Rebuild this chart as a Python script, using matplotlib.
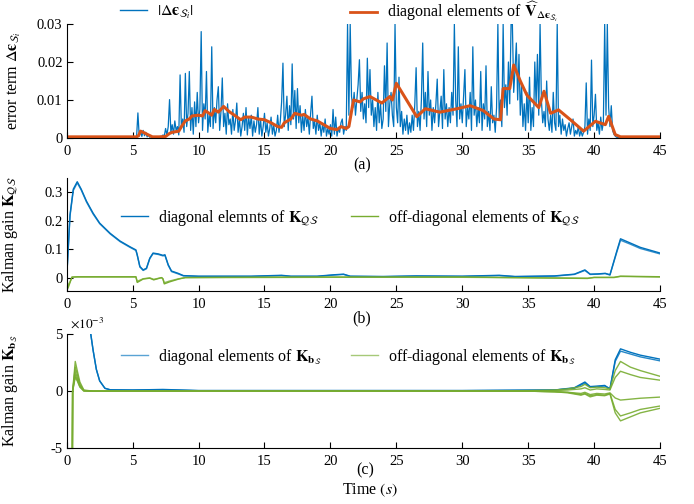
import matplotlib
matplotlib.use('Agg')
import matplotlib.pyplot as plt
import numpy as np
from matplotlib.lines import Line2D

plt.rcParams['font.family'] = ['Liberation Serif', 'DejaVu Serif']
plt.rcParams['mathtext.fontset'] = 'stix'

BLUE = '#0072BD'
ORANGE = '#D95319'
GREEN = '#77AC30'

# ---- (a) error term, values in 1e-3, one row per second starting at 5 s, 0.1 s apart
err_rows = [
    [0, 0, 0, 0.3, 6.6, 0.5, 1.8, 0.4, 2.0, 0.6],          # 5
    [1.5, 0.3, 0.8, 0.2, 0.4, 0.1, 0.2, 0.1, 0.2, 0.1],     # 6
    [0.2, 0.4, 0.3, 0.8, 0.5, 2.5, 0.8, 3.0, 10.1, 1.5],    # 7
    [3.5, 1.0, 4.5, 2.0, 3.0, 0.8, 16.6, 2.5, 5.0, 1.5],    # 8
    [17.0, 3.0, 6.5, 17.5, 2.0, 8.0, 1.0, 9.5, 3.0, 12.0],  # 9
    [4.0, 7.5, 28.0, 2.0, 9.0, 5.0, 17.5, 1.5, 6.0, 3.0],   # 10
    [24.0, 2.5, 8.0, 4.0, 10.0, 13.5, 2.0, 7.0, 15.8, 3.0], # 11
    [6.5, 1.0, 9.0, 3.5, 5.0, 1.0, 7.5, 2.0, 4.5, 9.2],     # 12
    [1.5, 5.0, 0.5, 3.0, 6.5, 2.0, 8.0, 0.8, 5.5, 2.5],     # 13
    [6.0, 0.5, 4.5, 1.5, 3.5, 8.0, 1.0, 5.0, 0.5, 3.0],     # 14
    [6.5, 1.5, 4.0, 0.5, 2.5, 5.5, 1.0, 3.5, 0.5, 2.0],     # 15
    [6.0, 1.5, 4.5, 9.5, 19.7, 3.0, 6.0, 11.0, 2.0, 8.5],   # 16
    [3.5, 19.5, 5.0, 12.5, 2.5, 13.0, 4.0, 8.5, 1.5, 6.0],  # 17
    [2.0, 7.5, 3.0, 5.5, 1.0, 6.5, 11.0, 2.5, 4.5, 1.0],    # 18
    [6.0, 2.0, 4.0, 0.5, 3.5, 1.5, 5.0, 0.5, 2.5, 1.0],     # 19
    [3.5, 0.5, 7.5, 1.0, 5.5, 0.5, 2.5, 1.5, 4.0, 5.0],     # 20
    [1.0, 3.0, 2.0, 30.0, 6.0, 30.0, 11.0, 8.0, 12.0, 6.0], # 21
    [10.0, 14.0, 20.6, 7.0, 12.0, 5.0, 9.0, 4.0, 21.0, 8.0],# 22
    [18.0, 6.0, 10.0, 3.0, 8.0, 2.0, 12.0, 4.0, 9.0, 2.5],  # 23
    [5.0, 19.0, 7.0, 25.0, 3.0, 9.0, 12.0, 6.0, 3.0, 30.0], # 24
    [8.0, 4.0, 16.0, 3.0, 7.0, 1.0, 5.0, 2.0, 6.0, 1.0],    # 25
    [4.0, 1.5, 6.0, 2.0, 9.0, 18.5, 3.0, 7.0, 2.0, 10.0],   # 26
    [25.0, 5.0, 12.0, 3.0, 17.5, 6.0, 10.0, 2.0, 8.0, 4.0], # 27
    [9.0, 15.5, 3.0, 7.0, 11.0, 2.5, 18.0, 5.0, 9.0, 3.0],  # 28
    [8.0, 4.0, 12.0, 6.0, 30.0, 10.0, 3.0, 24.0, 5.0, 9.0], # 29
    [4.0, 11.0, 18.0, 3.0, 8.0, 5.0, 12.0, 2.0, 24.0, 6.0], # 30
    [10.0, 3.0, 8.0, 4.0, 17.5, 2.0, 9.0, 5.0, 19.0, 3.0],  # 31
    [7.0, 2.0, 13.5, 4.0, 6.0, 1.5, 8.0, 30.0, 5.0, 10.0],  # 32
    [3.0, 30.0, 8.0, 14.0, 6.0, 20.0, 9.0, 30.0, 30.0, 12.0],  # 33
    [18.0, 25.0, 10.0, 22.0, 6.0, 14.0, 3.0, 9.0, 2.0, 12.0],  # 34
    [4.0, 16.0, 2.0, 8.0, 3.0, 20.0, 9.0, 22.0, 6.0, 30.0], # 35
    [10.0, 4.0, 7.0, 3.0, 15.0, 5.0, 2.0, 6.0, 1.5, 12.0],  # 36
    [4.0, 2.0, 30.0, 3.0, 6.0, 1.0, 5.0, 2.0, 3.5, 0.5],    # 37
    [2.5, 4.0, 1.0, 3.0, 5.0, 0.5, 2.0, 1.0, 3.0, 0.5],     # 38
    [2.0, 0.5, 1.5, 3.0, 14.5, 1.0, 5.0, 2.0, 20.5, 3.0],   # 39
    [6.0, 11.5, 2.0, 4.0, 1.0, 5.5, 2.0, 4.0, 30.0, 6.0],   # 40
    [30.0, 8.0, 3.0, 8.5, 2.0, 1.0, 0.5, 0.2, 0.1, 0.1],    # 41
]

var_t = [0, 5.3, 5.45, 5.6, 5.8, 6.2, 6.5, 7.0, 7.5, 7.8, 8.0, 8.5, 8.7, 9.0, 9.3, 9.5,
         10.0, 10.3, 10.5, 10.8, 11.0, 11.2, 11.5, 11.9, 12.3, 12.8, 13.2, 13.5, 14.0,
         14.5, 15.0, 15.5, 16.0, 16.3, 16.5, 17.0, 17.3, 17.8, 18.0, 18.5, 19.0, 19.5,
         20.0, 20.5, 20.8, 21.2, 21.4, 21.75, 22.25, 22.5, 23.0, 23.9, 24.5, 24.7, 25.0,
         26.55, 27.2, 28.3, 29.6, 30.6, 31.6, 32.4, 32.9, 33.1, 33.6, 33.9, 34.4, 34.9,
         35.8, 36.2, 36.7, 37.3, 38.2, 39.2, 40.1, 40.85, 41.1, 41.6, 42.0, 45]
var_v = [0.3, 0.3, 0.6, 1.8, 1.5, 0.8, 0.3, 0.3, 0.4, 1.2, 1.5, 1.8, 3.0, 4.5, 5.0, 5.8,
         6.0, 5.8, 7.2, 6.5, 6.0, 7.5, 6.8, 8.3, 7.0, 5.8, 4.8, 5.5, 5.5,
         5.0, 4.8, 4.0, 3.0, 2.8, 4.0, 5.0, 6.5, 6.0, 6.2, 5.0, 4.5, 3.5,
         2.5, 2.2, 3.0, 2.5, 3.0, 10.0, 9.5, 10.3, 10.9, 9.2, 10.9, 10.0, 14.4,
         5.6, 7.7, 6.8, 7.7, 8.5, 7.2, 5.0, 4.8, 13.0, 13.0, 19.2, 15.0, 11.3,
         8.0, 12.3, 6.5, 7.4, 4.8, 1.8, 4.4, 3.5, 5.7, 0.9, 0.3, 0.3]

# ---- (b) Kalman gain K_QS
kq_t = [0, 0.25, 0.5, 0.8, 1.1, 1.5, 2.0, 2.5, 3.3, 4.05, 4.8, 5.25, 5.35, 5.55, 5.8,
        6.05, 6.3, 6.55, 6.95, 7.3, 7.45, 7.7, 7.95, 8.45, 8.85, 10, 12, 14, 16.3, 17,
        19, 20.3, 21.0, 21.5, 24, 26.5, 30, 32.8, 34, 37, 38.5, 39.3, 39.7, 40.3, 40.84,
        41.2, 41.7, 42.0, 42.75, 43.5, 45]
kq_diag_1 = [0, 0.22, 0.31, 0.336, 0.31, 0.268, 0.226, 0.191, 0.155, 0.128, 0.108, 0.097,
             0.08, 0.039, 0.027, 0.033, 0.068, 0.086, 0.083, 0.078, 0.08, 0.045, 0.023,
             0.015, 0.007, 0.005, 0.005, 0.005, 0.008, 0.005, 0.005, 0.01, 0.012, 0.005,
             0.004, 0.006, 0.005, 0.008, 0.004, 0.006, 0.012, 0.027, 0.012, 0.013, 0.015,
             0.01, 0.09, 0.136, 0.121, 0.106, 0.086]
kq_diag_2 = [0, 0.215, 0.305, 0.332, 0.307, 0.265, 0.223, 0.189, 0.153, 0.126, 0.106, 0.095,
             0.078, 0.037, 0.025, 0.031, 0.066, 0.084, 0.081, 0.076, 0.078, 0.043, 0.021,
             0.013, 0.006, 0.004, 0.004, 0.004, 0.007, 0.004, 0.004, 0.009, 0.011, 0.004,
             0.003, 0.005, 0.004, 0.007, 0.003, 0.005, 0.011, 0.025, 0.011, 0.012, 0.014,
             0.009, 0.086, 0.131, 0.117, 0.102, 0.083]
kq_off_t = [0, 0.1, 0.4, 0.8, 5.25, 5.35, 5.8, 6.3, 6.6, 7.2, 7.3, 7.4, 7.8, 8.5, 9.0,
            12, 20, 30, 39.5, 40, 41.5, 42.0, 45]
kq_off_1 = [0, -0.037, 0.002, 0.003, 0.003, -0.017, -0.005, -0.002, -0.008, 0.0, -0.005,
            -0.022, -0.015, -0.005, 0.0, 0.001, 0.002, 0.002, -0.003, 0.001, 0.001, 0.005, 0.003]
kq_off_2 = [0, -0.03, 0.001, 0.002, 0.002, -0.013, -0.004, -0.001, -0.006, 0.0, -0.004,
            -0.018, -0.012, -0.004, 0.0, 0.0, 0.001, 0.001, -0.002, 0.0, 0.0, 0.004, 0.002]

# ---- (c) Kalman gain K_bS, values in 1e-3
kb_t = [0, 0.05, 0.8, 1.4, 1.8, 2.0, 2.25, 2.5, 2.9, 3.3, 5, 7.3, 10, 20, 30, 37, 38.5,
        39.3, 39.7, 40.3, 40.8, 41.2, 41.6, 42.0, 42.75, 43.5, 45]
kb_diag_1 = [0, 20, 25, 12, 5.2, 3.6, 1.9, 0.9, 0.25, 0.12, 0.1, 0.15, 0.05, 0.05, 0.05,
             0.1, 0.3, 0.8, 0.4, 0.45, 0.5, 0.2, 2.75, 3.7, 3.4, 3.15, 2.8]
kb_diag_2 = [0, 20, 25, 12, 5.2, 3.6, 1.9, 0.9, 0.25, 0.12, 0.1, 0.12, 0.05, 0.05, 0.05,
             0.1, 0.25, 0.7, 0.35, 0.4, 0.45, 0.2, 2.6, 3.5, 3.25, 3.0, 2.65]
kb_off_t = [0, 0.05, 0.35, 0.45, 0.65, 0.8, 1.0, 1.3, 2, 5, 10, 20, 30, 35, 37, 38, 39,
            39.3, 39.7, 40.2, 40.8, 41.2, 41.6, 42.0, 42.75, 43.5, 45]
kb_off = [
    [1.0, -30, -30, 0, 2.6, 1.8, 0.8, 0.1, 0, 0, 0, 0, 0, 0.05, 0.1, 0.2, 0.4, 0.6, 0.3,
     0.35, 0.3, 0.2, 1.8, 2.6, 2.1, 1.8, 1.3],
    [0.8, -30, -30, 0, 2.1, 1.5, 0.6, 0.05, 0, 0, 0, 0, 0, 0.0, 0.05, 0.1, 0.2, 0.3, 0.1,
     0.2, 0.15, 0.1, 1.2, 1.74, 1.45, 1.2, 0.96],
    [0.6, -30, -30, 0, 1.7, 1.2, 0.5, 0.05, 0, 0, 0, 0, 0, 0, -0.05, -0.1, -0.2, -0.1, -0.3,
     -0.2, -0.25, -0.15, -0.6, -0.78, -0.7, -0.62, -0.52],
    [0.4, -30, -30, 0, 1.4, 1.0, 0.4, 0.05, 0, 0, 0, 0, 0, 0, -0.05, -0.1, -0.3, -0.2, -0.4,
     -0.3, -0.35, -0.2, -1.6, -2.17, -1.9, -1.6, -1.3],
    [0.2, -30, -30, 0, 1.2, 0.9, 0.35, 0.0, 0, 0, 0, 0, 0, 0, -0.05, -0.15, -0.35, -0.25, -0.5,
     -0.35, -0.4, -0.25, -1.9, -2.6, -2.25, -1.9, -1.5],
]

xticks = [0, 5, 10, 15, 20, 25, 30, 35, 40, 45]

W, H = 694, 504
fig = plt.figure(figsize=(W / 100, H / 100), dpi=100)
ax_a = fig.add_axes([0.0961, 0.7262, 0.855, 0.2262])
ax_b = fig.add_axes([0.0961, 0.4226, 0.855, 0.2248])
ax_c = fig.add_axes([0.0961, 0.1105, 0.855, 0.2268])


def style(ax):
    ax.spines['top'].set_visible(False)
    ax.spines['right'].set_visible(False)
    ax.spines['left'].set_linewidth(0.8)
    ax.spines['bottom'].set_linewidth(0.8)
    ax.tick_params(direction='in', length=4, width=0.8, labelsize=10.5)
    ax.tick_params(axis='x', pad=5)
    ax.tick_params(axis='y', pad=3)
    ax.set_xlim(0, 45)
    ax.set_xticks(xticks)
    ax.set_xticklabels([str(v) for v in xticks])


def entry(x, y, color, label, lw=1.0, alpha=1.0):
    h = Line2D([], [], color=color, lw=lw, alpha=alpha)
    fig.legend([h], [label], loc='center left', bbox_to_anchor=(x / W, 1 - y / H),
               frameon=False, handlelength=1.7, handletextpad=0.6, borderpad=0,
               borderaxespad=0, fontsize=11.5)


EPS = r'\boldsymbol{ϵ}'

# (a)
err_t = np.concatenate([[0.0], 5.0 + np.arange(len(err_rows) * 10) / 10.0, [42.0, 45.0]])
err_v = np.concatenate([[0.0], np.array(err_rows).ravel(), [0.0, 0.0]]) * 1e-3
ax_a.plot(err_t, err_v, color=BLUE, lw=0.9)
ax_a.plot(var_t, np.array(var_v) * 1e-3, color=ORANGE, lw=2.2)
style(ax_a)
ax_a.set_ylim(0, 0.03)
ax_a.set_yticks([0, 0.01, 0.02, 0.03])
ax_a.set_yticklabels(['0', '0.01', '0.02', '0.03'])
ax_a.set_ylabel(r'error term $\Delta' + EPS + r'_{\mathcal{S}_i}$', fontsize=11.5)
ax_a.yaxis.set_label_coords(-0.074, 0.5)
entry(120, 12, BLUE, r'$|\Delta' + EPS + r'_{\mathcal{S}_i}|$')
entry(350, 12, ORANGE,
      r'diagonal elements of $\widehat{\mathbf{V}}_{\Delta' + EPS + r'_{\mathcal{S}_i}}$',
      lw=2.0)

# (b)
ax_b.plot(kq_t, kq_diag_1, color=BLUE, lw=1.0)
ax_b.plot(kq_t, kq_diag_2, color=BLUE, lw=1.0, alpha=0.8)
ax_b.plot(kq_off_t, kq_off_1, color=GREEN, lw=1.0)
ax_b.plot(kq_off_t, kq_off_2, color=GREEN, lw=1.0, alpha=0.8)
style(ax_b)
ax_b.set_ylim(-0.047, 0.35)
ax_b.set_yticks([0, 0.1, 0.2, 0.3])
ax_b.set_yticklabels(['0', '0.1', '0.2', '0.3'])
ax_b.set_ylabel(r'Kalman gain $\mathbf{K}_{\mathcal{Q}\mathcal{S}}$', fontsize=11.5)
ax_b.yaxis.set_label_coords(-0.079, 0.5)
entry(121, 218, BLUE, r'diagonal elemnts of $\mathbf{K}_{\mathcal{Q}\mathcal{S}}$')
entry(351, 218, GREEN, r'off-diagonal elements of $\mathbf{K}_{\mathcal{Q}\mathcal{S}}$')

# (c)
ax_c.plot(kb_t, kb_diag_1, color=BLUE, lw=1.0)
ax_c.plot(kb_t, kb_diag_2, color=BLUE, lw=1.0, alpha=0.85)
for vals in kb_off:
    ax_c.plot(kb_off_t, vals, color=GREEN, lw=1.0, alpha=0.9)
style(ax_c)
ax_c.set_ylim(-5, 5)
ax_c.set_yticks([-5, 0, 5])
ax_c.set_yticklabels(['-5', '0', '5'])
ax_c.set_ylabel(r'Kalman gain $\mathbf{K}_{\mathbf{b}_\mathcal{S}}$', fontsize=11.5)
ax_c.yaxis.set_label_coords(-0.079, 0.5)
fig.text(70 / W, 1 - 331 / H, r'$\times10^{-3}$', fontsize=9.5, ha='left', va='bottom')
entry(121, 357, BLUE, r'diagonal elements of $\mathbf{K}_{\mathbf{b}_\mathcal{S}}$', alpha=0.65)
entry(351, 357, GREEN, r'off-diagonal elements of $\mathbf{K}_{\mathbf{b}_\mathcal{S}}$', alpha=0.65)

fig.text(362 / W, 1 - 165 / H, '(a)', fontsize=11.5, ha='center', va='center')
fig.text(362 / W, 1 - 318 / H, '(b)', fontsize=11.5, ha='center', va='center')
fig.text(365 / W, 1 - 470 / H, '(c)', fontsize=11.5, ha='center', va='center')
fig.text(370 / W, 1 - 490 / H, r'Time $(s)$', fontsize=11.5, ha='center', va='center')

fig.savefig('out.png', dpi=100)
